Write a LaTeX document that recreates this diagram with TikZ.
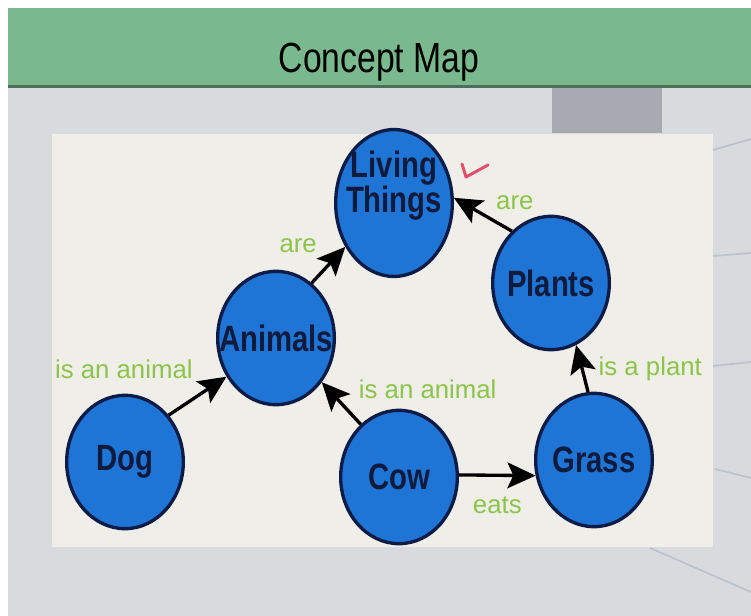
\documentclass[tikz,border=0pt]{standalone}
\usepackage{fontspec}
\setmainfont{Liberation Sans}
\usepackage{graphicx}
\usepackage{tikz}
\usetikzlibrary{arrows.meta,shapes.geometric}

\definecolor{headgreen}{RGB}{121,185,141}
\definecolor{headline}{RGB}{78,110,92}
\definecolor{screengrey}{RGB}{216,218,221}
\definecolor{blockgrey}{RGB}{167,171,177}
\definecolor{panelcream}{RGB}{239,238,233}
\definecolor{faintline}{RGB}{186,194,206}
\definecolor{circleblue}{RGB}{31,117,214}
\definecolor{navy}{RGB}{12,28,70}
\definecolor{ink}{RGB}{14,27,60}
\definecolor{linkgreen}{RGB}{140,196,74}
\definecolor{checkred}{RGB}{224,80,106}

\newcommand{\cword}[1]{\makebox[0pt]{\scalebox{1}[1.25]{#1}}}

\begin{document}
\begin{tikzpicture}[x=0.03cm,y=-0.03cm,->,>={Stealth[length=24pt,width=22pt,inset=5pt]},
                    line width=0.1cm]
  \tikzstyle{concept}=[ellipse,draw=navy,fill=circleblue,line width=0.1cm,
                       minimum width=3.5cm,minimum height=4cm,inner sep=0pt,
                       text=ink,align=center,font=\bfseries\fontsize{25}{30}\selectfont]
  \tikzstyle{link}=[text=linkgreen,inner sep=0pt,font=\fontsize{22}{26}\selectfont]

  % screen background
  \useasboundingbox (0,0) rectangle (751,616);
  \fill[white] (0,0) rectangle (751,616);
  \fill[screengrey] (8,88) rectangle (751,616);
  \fill[headgreen] (8,8) rectangle (751,85);
  \fill[headline] (8,85) rectangle (751,88);
  \fill[blockgrey] (552,88) rectangle (662,133);
  \fill[panelcream] (52,134) rectangle (713,547);
  \draw[-,faintline,line width=0.05cm] (713,150) -- (751,139)
                                       (713,256) -- (751,253)
                                       (713,366) -- (751,362)
                                       (715,469) -- (751,478)
                                       (650,548) -- (751,592);

  \node[anchor=base,text=black,font=\fontsize{36}{40}\selectfont] (mapTitle) at (379,72)
       {\scalebox{0.8}[1]{Concept Map}};

  \node[concept] (living)  at (394,203) {\cword{Living}\\\cword{Things}\\[6pt]};
  \node[concept] (animals) at (276,338) {\cword{Animals}};
  \node[concept] (plants)  at (551,283) {\cword{Plants}};
  \node[concept] (dog)     at (125,462) {\cword{Dog}};
  \node[concept] (cow)     at (399,477) {\cword{Cow}};
  \node[concept] (grass)   at (594,460) {\cword{Grass}};

  \path (dog.47) edge node[link,pos=0.5,anchor=south east,xshift=-0.1cm,yshift=0.47cm]
                      (isDog) {is an animal} (animals.218)
        (animals.57) edge node[link,pos=0.5,anchor=south east,xshift=-0.3cm,yshift=0.32cm]
                      (areAnimals) {are} (living.222)
        (plants.127) edge node[link,pos=0.3,anchor=south west,yshift=0.29cm]
                      (arePlants) {are} (living.5)
        (cow.126) edge node[link,pos=0.5,anchor=south west,xshift=0.48cm,yshift=0.08cm]
                      (isCow) {is an animal} (animals.316)
        (grass.95) edge node[link,pos=0.5,anchor=west,xshift=0.45cm]
                      (isGrass) {is a plant} (plants.292)
        (cow.2) edge node[link,pos=0.5,anchor=north,yshift=-0.6cm]
                      (eats) {eats} (grass.195);

  % the red tick
  \draw[-,checkred,line width=0.09cm,line cap=round,line join=round]
       (462,164) -- (466,177) -- (488,165);
\end{tikzpicture}
\end{document}
